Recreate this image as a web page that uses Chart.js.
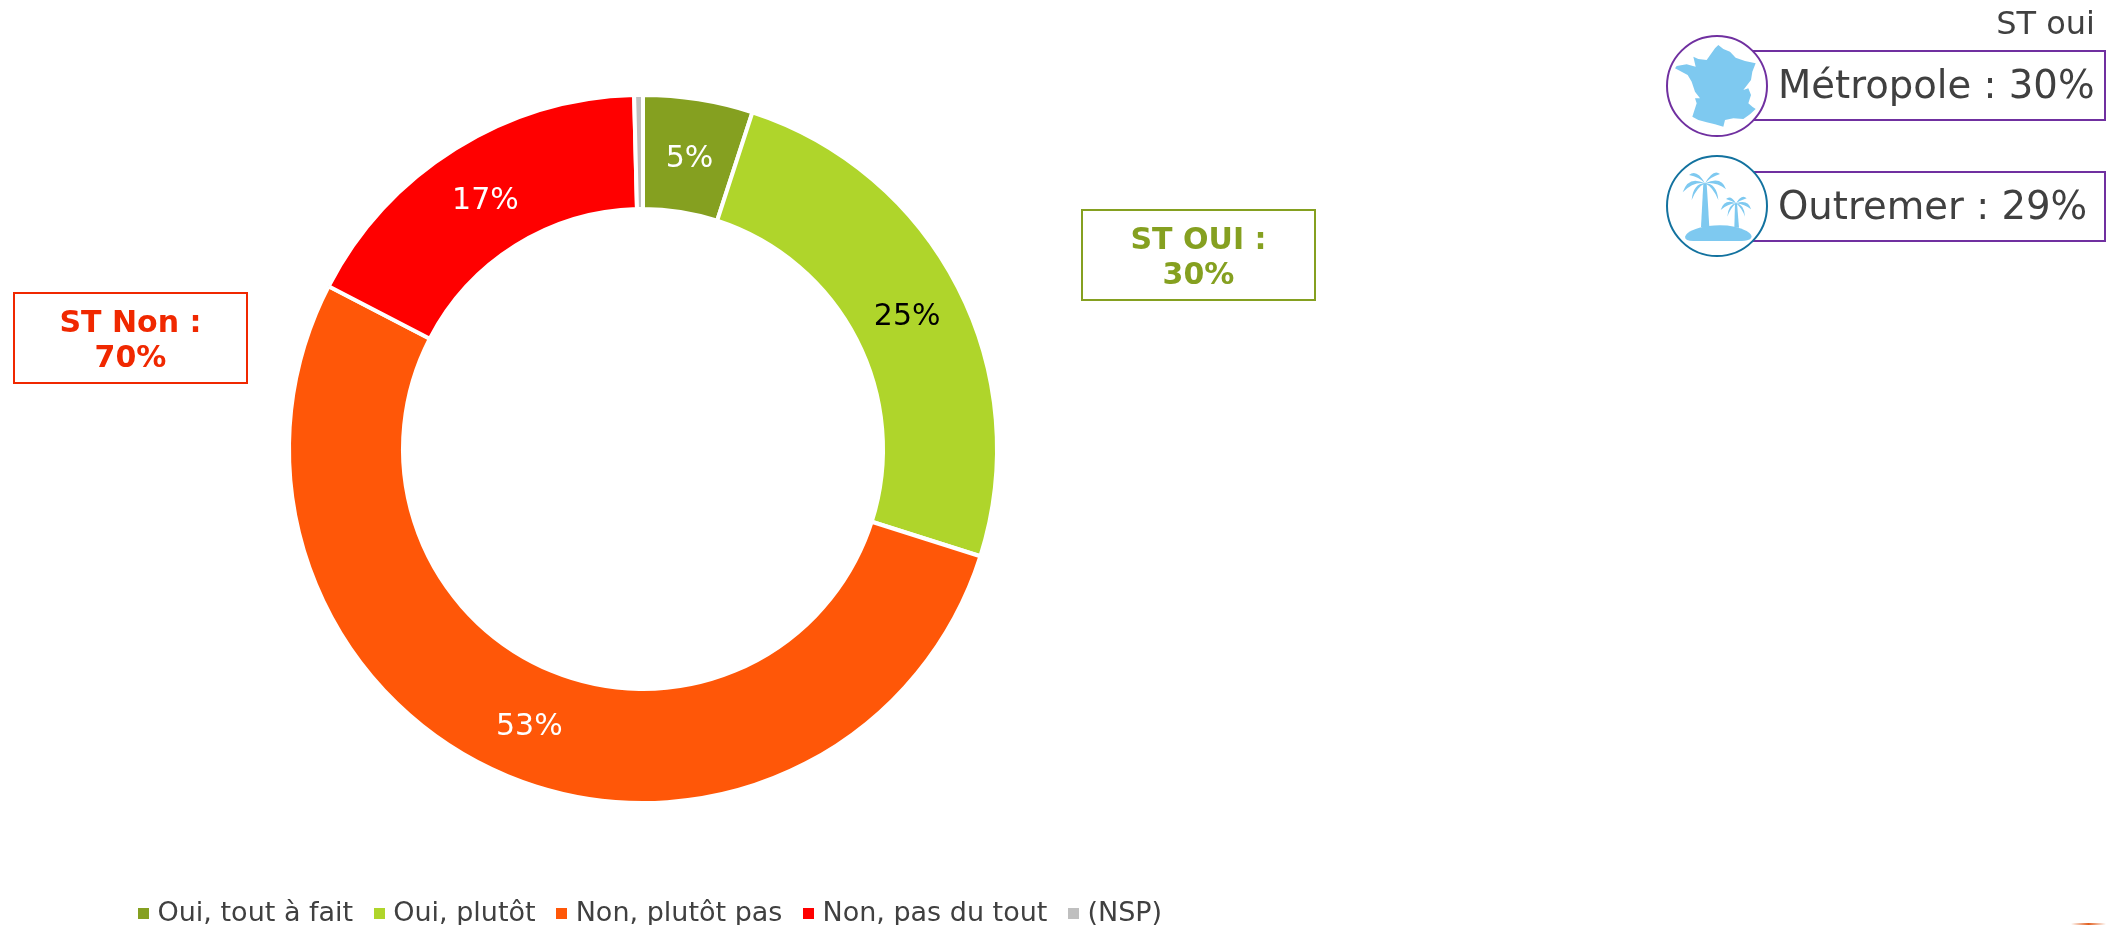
<!DOCTYPE html>
<html lang="fr">
<head>
<meta charset="utf-8">
<title>ST oui / ST non</title>
<style>html,body{margin:0;padding:0;background:#fff}canvas{display:block}</style>
<script src="https://cdn.jsdelivr.net/npm/chart.js@4/dist/chart.umd.js"></script>
</head>
<body>
<canvas id="c" width="2123" height="925"></canvas>
<script>
const categories = ['Oui, tout à fait', 'Oui, plutôt', 'Non, plutôt pas', 'Non, pas du tout', '(NSP)'];
const values = [5.0, 24.9, 52.7, 17.0, 0.4];
const sliceColors = ['#85A020', '#AFD52B', '#FF5708', '#FF0000', '#BFBFBF'];
const sliceLabels = ['5%', '25%', '53%', '17%', ''];
const sliceLabelColors = ['#FFFFFF', '#000000', '#FFFFFF', '#FFFFFF', '#FFFFFF'];
const panelHeader = 'ST oui';
const panelRows = ['Métropole : 30%', 'Outremer : 29%'];
const calloutYes = ['ST OUI :', '30%'];
const calloutNo = ['ST Non :', '70%'];

const FONT = '"DejaVu Sans", Verdana, sans-serif';
const ICON = '#7EC9F0';

function swatch(color) {
  const s = document.createElement('canvas');
  s.width = 11; s.height = 11;
  const x = s.getContext('2d');
  x.fillStyle = color; x.fillRect(0, 0, 11, 11);
  return s;
}

function drawFrance(ctx) {
  const pts = [[150,40],[160,30],[175,42],[195,50],[212,68],[240,78],[272,85],[262,110],[258,135],[235,165],[250,160],[258,180],[250,205],[262,215],[272,222],[255,238],[235,252],[205,250],[180,255],[175,275],[150,268],[125,262],[100,255],[82,245],[95,205],[90,190],[105,190],[90,170],[80,140],[68,120],[30,100],[35,93],[65,88],[92,95],[85,65],[100,72],[125,75]];
  ctx.save();
  ctx.translate(1665, 35);
  ctx.scale(1 / 3, 1 / 3);
  ctx.fillStyle = ICON;
  ctx.beginPath();
  pts.forEach((p, i) => i ? ctx.lineTo(p[0], p[1]) : ctx.moveTo(p[0], p[1]));
  ctx.closePath();
  ctx.fill();
  ctx.restore();
}

function frond(ctx, bx, by, f) {
  const [tx, ty, cx, cy] = f;
  ctx.beginPath();
  ctx.moveTo(bx, by);
  ctx.quadraticCurveTo(cx, cy, tx, ty);
  ctx.quadraticCurveTo(cx + (bx - cx) * 0.3, cy + (by - cy) * 0.3 + 12, bx, by);
  ctx.closePath();
  ctx.fill();
}

function drawPalms(ctx) {
  ctx.save();
  ctx.translate(1665, 155);
  ctx.scale(1 / 3, 1 / 3);
  ctx.fillStyle = ICON;
  ctx.beginPath();
  ctx.moveTo(60, 245);
  ctx.quadraticCurveTo(70, 222, 130, 213);
  ctx.quadraticCurveTo(200, 205, 245, 228);
  ctx.quadraticCurveTo(265, 240, 258, 250);
  ctx.quadraticCurveTo(250, 258, 230, 258);
  ctx.lineTo(85, 258);
  ctx.quadraticCurveTo(60, 258, 60, 245);
  ctx.fill();
  ctx.beginPath();
  ctx.moveTo(115, 85); ctx.lineTo(125, 85); ctx.lineTo(133, 216); ctx.lineTo(108, 216);
  ctx.closePath(); ctx.fill();
  ctx.beginPath();
  ctx.moveTo(210, 145); ctx.lineTo(216, 145); ctx.lineTo(222, 218); ctx.lineTo(208, 218);
  ctx.closePath(); ctx.fill();
  [[72,60,95,40],[53,112,70,60],[80,135,85,85],[165,57,145,40],[183,103,170,62],[160,135,155,85]].forEach(f => frond(ctx, 120, 85, f));
  [[183,132,197,118],[167,165,178,130],[187,185,190,148],[245,130,230,116],[258,163,250,132],[240,185,238,148]].forEach(f => frond(ctx, 213, 145, f));
  ctx.restore();
}

function callout(ctx, box, lines, color, lineYs) {
  ctx.strokeStyle = color;
  ctx.lineWidth = 2;
  ctx.strokeRect(box[0], box[1], box[2], box[3]);
  ctx.fillStyle = color;
  ctx.font = 'bold 30px ' + FONT;
  ctx.textAlign = 'center';
  ctx.textBaseline = 'middle';
  lines.forEach((t, i) => ctx.fillText(t, box[0] + box[2] / 2, lineYs[i]));
}

const layoutPlugin = {
  id: 'placement',
  afterLayout(chart) {
    chart.chartArea = { left: 287, top: 93, right: 999, bottom: 805, width: 712, height: 712 };
    const lg = chart.legend;
    lg.left = 117.5; lg.right = 1400; lg.top = 874; lg.bottom = 925;
  }
};

const overlayPlugin = {
  id: 'overlay',
  afterDatasetsDraw(chart) {
    const ctx = chart.ctx;
    ctx.save();
    const meta = chart.getDatasetMeta(0);
    ctx.font = '30px ' + FONT;
    ctx.textAlign = 'center';
    ctx.textBaseline = 'middle';
    meta.data.forEach((arc, i) => {
      if (!sliceLabels[i]) return;
      const p = arc.getCenterPoint();
      ctx.fillStyle = sliceLabelColors[i];
      ctx.fillText(sliceLabels[i], p.x, p.y + 3.5);
    });

    callout(ctx, [1082, 210, 233, 90], calloutYes, '#85A020', [241, 276]);
    callout(ctx, [14, 293, 233, 90], calloutNo, '#F02800', [324, 359]);

    // right panel
    ctx.strokeStyle = '#7030A0';
    ctx.lineWidth = 2;
    ctx.strokeRect(1730, 51, 375, 69);
    ctx.strokeRect(1730, 172, 375, 69);
    [[86, '#7030A0'], [206, '#13729F']].forEach(c => {
      ctx.beginPath();
      ctx.arc(1717, c[0], 50, 0, Math.PI * 2);
      ctx.fillStyle = '#FFFFFF';
      ctx.fill();
      ctx.strokeStyle = c[1];
      ctx.lineWidth = 2;
      ctx.stroke();
    });
    drawFrance(ctx);
    drawPalms(ctx);

    ctx.fillStyle = '#404040';
    ctx.textBaseline = 'middle';
    ctx.textAlign = 'right';
    ctx.font = '32px ' + FONT;
    ctx.fillText(panelHeader, 2095, 26);
    ctx.textAlign = 'left';
    ctx.font = '38.6px ' + FONT;
    ctx.fillText(panelRows[0], 1778, 88);
    ctx.fillText(panelRows[1], 1778, 209);

    // sliver of an orange element cut by the bottom edge
    const g = ctx.createLinearGradient(2071, 0, 2106, 0);
    g.addColorStop(0, 'rgba(226,96,32,0)');
    g.addColorStop(0.5, 'rgba(226,96,32,1)');
    g.addColorStop(1, 'rgba(226,96,32,0)');
    ctx.fillStyle = g;
    ctx.fillRect(2071, 923, 35, 2);
    ctx.restore();
  }
};

new Chart(document.getElementById('c'), {
  type: 'doughnut',
  data: {
    labels: categories,
    datasets: [{
      data: values,
      backgroundColor: sliceColors,
      borderColor: '#FFFFFF',
      borderWidth: 4
    }]
  },
  options: {
    responsive: false,
    animation: false,
    cutout: '67.8%',
    layout: { padding: 0 },
    plugins: {
      tooltip: { enabled: false },
      title: { display: false },
      legend: {
        display: true,
        position: 'bottom',
        align: 'start',
        labels: {
          usePointStyle: true,
          pointStyleWidth: 0.5,
          padding: 26,
          color: '#404040',
          font: { family: FONT, size: 27 },
          generateLabels(chart) {
            return Chart.overrides.doughnut.plugins.legend.labels.generateLabels(chart)
              .map(item => Object.assign(item, { pointStyle: swatch(item.fillStyle), hidden: false }));
          }
        }
      }
    }
  },
  plugins: [layoutPlugin, overlayPlugin]
});
</script>
</body>
</html>
